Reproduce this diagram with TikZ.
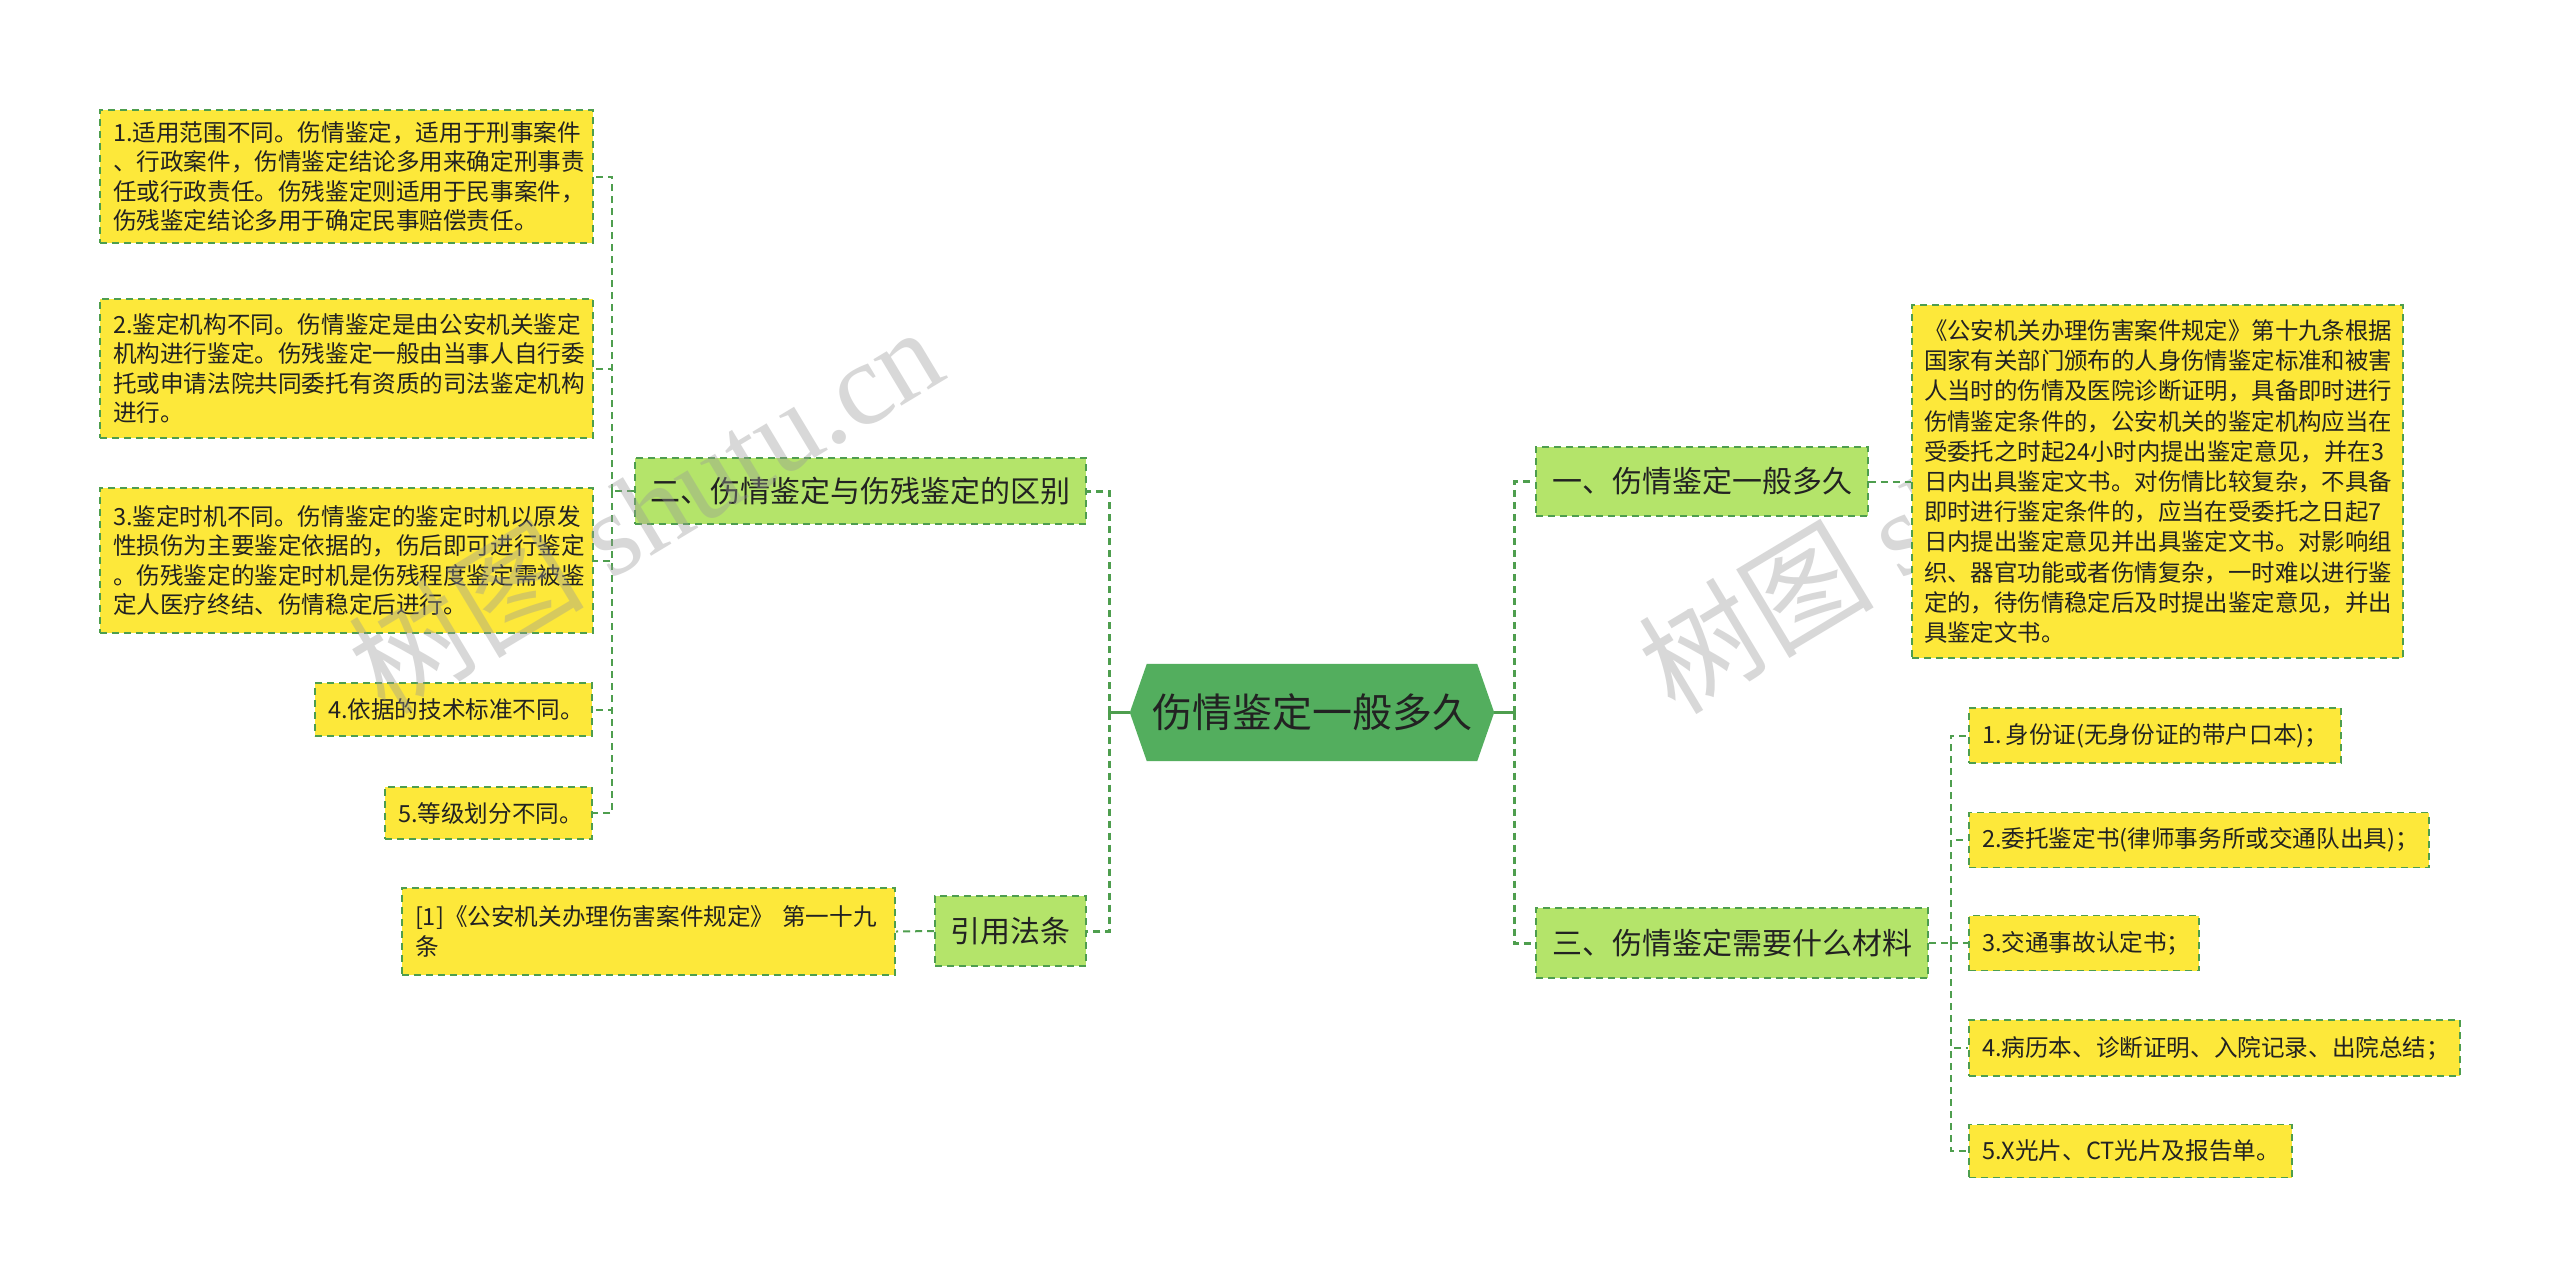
\documentclass[tikz,border=0pt]{standalone}
\usepackage{fontspec}
\setmainfont{Noto Sans CJK SC}
\newfontfamily\wmlatin{Liberation Serif}
\usetikzlibrary{backgrounds}
\definecolor{yfill}{HTML}{FDE83A}
\definecolor{gfill}{HTML}{B4E46A}
\definecolor{bdr}{HTML}{4E9E4E}
\definecolor{mainfill}{HTML}{53AE5E}
\definecolor{txt}{HTML}{222222}
\tikzset{
  box/.style={draw=bdr, dash pattern=on 7pt off 5pt, line width=1.6pt, inner xsep=13pt, inner ysep=0pt, align=left, text=txt},
  ybox/.style={box, fill=yfill, font=\fontsize{23.6}{29.5}\selectfont},
  gbox/.style={box, fill=gfill, font=\fontsize{30}{36}\selectfont, align=center, inner xsep=0pt},
  conn/.style={draw=bdr, line width=2pt, dash pattern=on 7pt off 5pt},
  mconn/.style={conn, line width=3pt},
  wm/.style={text=black!40, text opacity=0.38, font=\fontsize{118}{118}\selectfont}
}
\begin{document}
\begin{tikzpicture}[x=1pt,y=-1pt]
\useasboundingbox (0,0) rectangle (2560,1278);

% central node
\node[text=txt, font=\fontsize{40}{46}\selectfont, minimum width=330pt, minimum height=97pt, inner sep=0pt] (main) at (1312,712.5) {伤情鉴定一般多久};
\coordinate (mR) at ([xshift=17pt]main.east);
\coordinate (mL) at ([xshift=-17pt]main.west);

% level 1 branches
\node[gbox, minimum width=332pt, minimum height=69pt] (b1) at (1702,481.5) {一、伤情鉴定一般多久};
\node[gbox, minimum width=392pt, minimum height=70pt] (b3) at (1732,943) {三、伤情鉴定需要什么材料};
\node[gbox, minimum width=451pt, minimum height=66pt] (b2) at (860.5,491) {二、伤情鉴定与伤残鉴定的区别};
\node[gbox, minimum width=151pt, minimum height=70pt] (law) at (1010.5,931) {引用法条};

% right detail
\node[ybox, font=\fontsize{23.4}{30.2}\selectfont, inner xsep=12pt, text width=467pt, minimum width=491pt, minimum height=353pt] (detail) at (2157.5,481.5) {《公安机关办理伤害案件规定》第十九条根据\\国家有关部门颁布的人身伤情鉴定标准和被害\\人当时的伤情及医院诊断证明，具备即时进行\\伤情鉴定条件的，公安机关的鉴定机构应当在\\受委托之时起24小时内提出鉴定意见，并在3\\日内出具鉴定文书。对伤情比较复杂，不具备\\即时进行鉴定条件的，应当在受委托之日起7\\日内提出鉴定意见并出具鉴定文书。对影响组\\织、器官功能或者伤情复杂，一时难以进行鉴\\定的，待伤情稳定后及时提出鉴定意见，并出\\具鉴定文书。};

% right list
\node[ybox, text width=346pt, minimum width=372pt, minimum height=55pt] (i1) at (2155,735.5) {1.\,身份证(无身份证的带户口本)；};
\node[ybox, text width=434pt, minimum width=460pt, minimum height=55pt] (i2) at (2199,840) {2.委托鉴定书(律师事务所或交通队出具)；};
\node[ybox, text width=204pt, minimum width=230pt, minimum height=55pt] (i3) at (2084,943) {3.交通事故认定书；};
\node[ybox, text width=465pt, minimum width=491pt, minimum height=56pt] (i4) at (2214.5,1048) {4.病历本、诊断证明、入院记录、出院总结；};
\node[ybox, text width=297pt, minimum width=323pt, minimum height=53pt] (i5) at (2130.5,1151) {5.X光片、CT光片及报告单。};

% left list
\node[ybox, text width=467pt, minimum width=493pt, minimum height=133pt] (l1) at (346.5,176.5) {1.适用范围不同。伤情鉴定，适用于刑事案件\\、行政案件，伤情鉴定结论多用来确定刑事责\\任或行政责任。伤残鉴定则适用于民事案件，\\伤残鉴定结论多用于确定民事赔偿责任。};
\node[ybox, text width=467pt, minimum width=493pt, minimum height=139pt] (l2) at (346.5,368.5) {2.鉴定机构不同。伤情鉴定是由公安机关鉴定\\机构进行鉴定。伤残鉴定一般由当事人自行委\\托或申请法院共同委托有资质的司法鉴定机构\\进行。};
\node[ybox, text width=467pt, minimum width=493pt, minimum height=145pt] (l3) at (346.5,560.5) {3.鉴定时机不同。伤情鉴定的鉴定时机以原发\\性损伤为主要鉴定依据的，伤后即可进行鉴定\\。伤残鉴定的鉴定时机是伤残程度鉴定需被鉴\\定人医疗终结、伤情稳定后进行。};
\node[ybox, text width=251pt, minimum width=277pt, minimum height=53pt] (l4) at (453.5,709.5) {4.依据的技术标准不同。};
\node[ybox, text width=181pt, minimum width=207pt, minimum height=52pt] (l5) at (488.5,813) {5.等级划分不同。};

% reference
\node[ybox, text width=467pt, minimum width=493pt, minimum height=87pt] (ref) at (648.5,931.5) {[1]《公安机关办理伤害案件规定》 第一十九\\条};

% background
\begin{scope}[on background layer]
\fill[white] (0,0) rectangle (2560,1278);
\fill[mainfill] (main.north west) -- (main.north east) -- (mR) -- (main.south east) -- (main.south west) -- (mL) -- cycle;
\node[wm, rotate=31] (wm2) at (1935,508) {树图 {\wmlatin shutu.cn}};
\end{scope}

% connectors
\coordinate (jR) at ([xshift=20pt]mR);
\coordinate (jL) at ([xshift=-20pt]mL);
\draw[mconn, solid] (mR) -- (jR);
\draw[mconn, solid] (mL) -- (jL);
\draw[mconn] (jR) |- (b1.west);
\draw[mconn] (jR) |- (b3.west);
\draw[mconn] (jL) |- (b2.east);
\draw[mconn] (jL) |- (law.east);

\draw[conn] (b1.east) -- (detail.west);
\draw[conn] (law.west) -- (ref.east);

\coordinate (j3) at ([xshift=22pt]b3.east);
\draw[conn] (b3.east) -- (j3);
\foreach \n in {i1,i2,i3,i4,i5} { \draw[conn] (j3) |- (\n.west); }

\coordinate (j2) at ([xshift=-22pt]b2.west);
\draw[conn] (b2.west) -- (j2);
\foreach \n in {l1,l2,l3,l4,l5} { \draw[conn] (j2) |- (\n.east); }

% watermark
\node[wm, rotate=31] (wm1) at (645,508) {树图 {\wmlatin shutu.cn}};
\end{tikzpicture}
\end{document}
